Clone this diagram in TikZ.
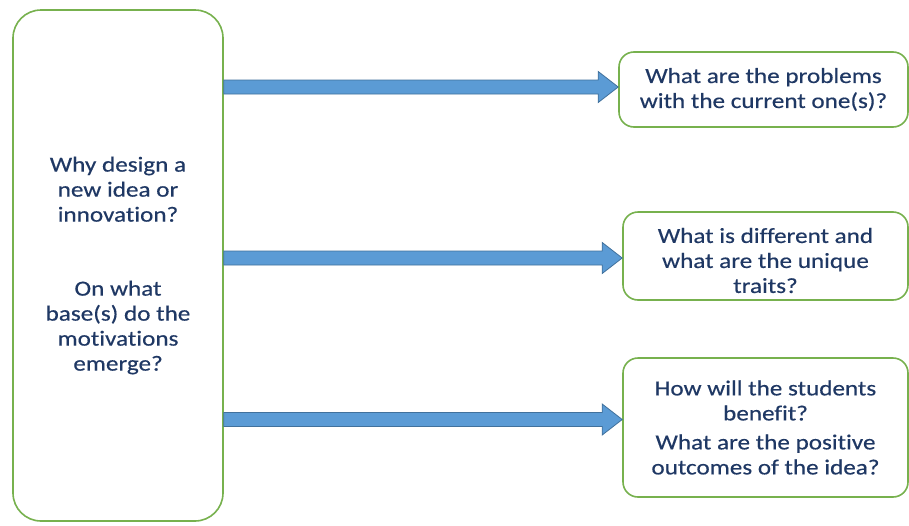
\documentclass[tikz,border=0pt]{standalone}
\usepackage{fontspec}
\setmainfont{Carlito}[FakeStretch=1.17, FakeBold=0.4, Ligatures=CommonOff]
\usepackage{tikz}
\usetikzlibrary{calc}

\definecolor{boxgreen}{HTML}{77B14E}
\definecolor{textnavy}{HTML}{1F3864}
\definecolor{arrowblue}{HTML}{5B9BD5}
\definecolor{arrowedge}{HTML}{41719C}

% block arrow from the left box to a question box
\newcommand{\blockarrow}[3]{%
    \coordinate (tip) at ($(#2.west)+(0,#3)$);
    \coordinate (tail) at (#1.east |- tip);
    \draw[bigarrow] ($(tail)+(0,7)$) -- ($(tip)+(-20,7)$) -- ($(tip)+(-20,15.5)$)
        -- (tip) -- ($(tip)+(-20,-15.5)$) -- ($(tip)+(-20,-7)$) -- ($(tail)+(0,-7)$) -- cycle;
}

\begin{document}
\begin{tikzpicture}[x=1pt, y=1pt,
    question/.style={draw=boxgreen, line width=1.6pt, rounded corners=15pt, fill=white,
        text=textnavy, align=center, inner sep=0pt, font=\fontsize{21.5}{25}\selectfont},
    bigarrow/.style={fill=arrowblue, draw=arrowedge, line width=0.8pt}]

    % Canvas
    \fill[white] (0,0) rectangle (909,-525);
    \useasboundingbox (0,0) rectangle (909,-525);

    % Left box
    \node[question, rounded corners=28pt, minimum width=210, minimum height=511] (why) at (118,-265.5)
        {Why design a\\ new idea or\\ innovation?\\[49pt] On what\\ base(s) do the\\ motivations\\ emerge?};

    % Question boxes
    \node[question, minimum width=289, minimum height=75] (problems) at (763.5,-89.5)
        {What are the problems\\ with the current one(s)?};
    \node[question, minimum width=285, minimum height=88] (traits) at (765.5,-256)
        {\rule{0pt}{24pt}What is different and\\ what are the unique\\ traits?};
    \node[question, minimum width=285, minimum height=139] (benefit) at (765.5,-427.5)
        {How will the students\\ benefit?\\[4pt] What are the positive\\ outcomes of the idea?};

    % Arrows
    \blockarrow{why}{problems}{2.5}
    \blockarrow{why}{traits}{-2}
    \blockarrow{why}{benefit}{8}
\end{tikzpicture}
\end{document}
